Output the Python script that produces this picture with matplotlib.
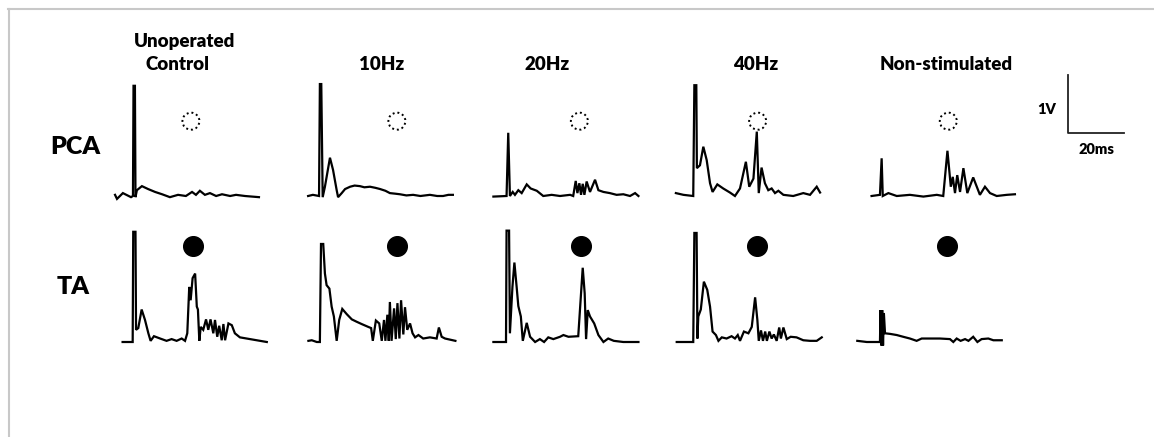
import matplotlib.pyplot as plt
from matplotlib.lines import Line2D

plt.rcParams['font.family'] = ['Lato', 'DejaVu Sans']

# ---- data: traces in ms (from panel left edge) and V ----
col_titles = ["Unoperated\nControl", "10Hz", "20Hz", "40Hz", "Non-stimulated"]
row_labels = ["PCA", "TA"]

pca_control_t = [1.8, 2.5, 4.6, 7.5, 8.2, 8.4, 8.9, 9.1, 9.6, 11.4, 13.6, 16.1, 18.6, 21.4, 24.3, 27.1,
                 29.3, 30.7, 32.1, 33.9, 35.7, 37.9, 40.0, 42.9, 45.0, 48.2, 53.2]
pca_control_v = [0.02, -0.05, 0.05, -0.02, 0.0, 1.9, 1.9, -0.02, 0.1, 0.17, 0.12, 0.07, 0.03, -0.02, 0.02, 0.0,
                 0.07, 0.02, 0.09, 0.02, 0.05, 0.0, 0.03, 0.0, 0.02, 0.0, -0.02]

pca_10hz_t = [2.9, 4.6, 6.8, 7.1, 7.6, 8.1, 8.9, 10.7, 11.8, 13.1, 13.6, 14.9, 16.1, 17.9, 19.5, 21.4, 23.0,
              25.0, 27.0, 28.6, 30.5, 32.1, 34.0, 35.7, 38.0, 40.4, 43.0, 46.4, 49.0, 51.1, 53.0, 54.6]
pca_10hz_v = [0.0, 0.02, 0.0, 1.93, 1.93, -0.02, 0.16, 0.66, 0.45, 0.1, -0.02, 0.05, 0.12, 0.16, 0.18, 0.17, 0.15,
              0.16, 0.14, 0.12, 0.09, 0.05, 0.04, 0.03, 0.01, 0.02, 0.0, 0.02, 0.0, 0.0, 0.02, 0.02]

pca_20hz_t = [3.0, 7.7, 8.3, 8.9, 9.9, 10.7, 11.9, 13.1, 14.9, 16.3, 18.5, 20.8, 23.8, 26.8, 30.4, 31.5,
              32.4, 33.0, 33.7, 34.3, 34.9, 35.5, 36.3, 37.5, 39.3, 40.5, 42.3, 44.6, 47.0, 49.4, 51.8, 53.6, 54.8]
pca_20hz_v = [-0.01, 0.0, 1.09, 0.0, 0.07, 0.02, 0.1, 0.05, 0.2, 0.13, 0.09, 0.0, 0.02, 0.0, 0.02, 0.0,
              0.26, 0.05, 0.22, 0.02, 0.21, 0.02, 0.25, 0.07, 0.28, 0.1, 0.07, 0.05, 0.02, 0.03, 0.0, 0.05, 0.0]

pca_40hz_t = [2.1, 4.8, 8.3, 8.7, 9.4, 9.6, 10.7, 11.9, 13.1, 14.3, 15.2, 16.9, 19.0, 21.4, 23.2, 25.0,
              27.1, 28.3, 29.8, 31.0, 31.7, 32.7, 33.9, 35.1, 36.3, 37.5, 38.7, 40.5, 44.0, 47.6, 50.0, 52.4, 53.6]
pca_40hz_v = [0.05, 0.02, 0.0, 1.91, 1.91, 0.48, 0.53, 0.85, 0.62, 0.22, 0.07, 0.2, 0.13, 0.06, 0.0, 0.13,
              0.59, 0.16, 0.3, 1.11, 0.05, 0.49, 0.22, 0.1, 0.13, 0.05, 0.09, 0.02, 0.0, 0.05, 0.02, 0.16, 0.06]

pca_nonstim_t = [7.7, 10.7, 11.3, 11.7, 13.7, 16.7, 21.4, 26.2, 31.0, 33.3, 34.8, 36.0, 36.7, 37.5, 38.3,
                 39.3, 40.5, 41.9, 44.0, 46.4, 48.2, 50.0, 52.4, 56.0, 58.9]
pca_nonstim_v = [0.0, 0.02, 0.65, 0.0, 0.05, 0.0, 0.02, -0.01, 0.02, 0.0, 0.78, 0.16, 0.33, 0.05, 0.36,
                 0.07, 0.48, 0.05, 0.32, 0.02, 0.16, 0.05, 0.0, 0.02, 0.03]

ta_control_t = [4.5, 8.1, 8.3, 9.1, 9.3, 10.1, 11.3, 12.5, 13.7, 14.5, 15.7, 17.9, 20.2, 22.0, 23.8, 25.6,
                26.8, 27.6, 28.3, 28.8, 29.5, 30.4, 31.0, 31.4, 31.9, 32.4, 33.3, 34.3, 35.1, 35.9, 36.9,
                37.5, 38.3, 39.0, 39.9, 40.5, 41.1, 42.3, 43.5, 44.6, 46.4, 50.0, 56.0]
ta_control_v = [0.0, 0.0, 1.9, 1.9, 0.21, 0.24, 0.56, 0.38, 0.15, 0.02, 0.1, 0.06, 0.02, 0.05, 0.02, 0.06,
                0.02, 0.15, 0.95, 0.72, 1.1, 1.18, 0.61, 0.56, 0.02, 0.26, 0.21, 0.39, 0.21, 0.39, 0.15,
                0.38, 0.09, 0.28, 0.03, 0.31, 0.03, 0.32, 0.29, 0.15, 0.08, 0.05, 0.0]

ta_10hz_t = [3.0, 4.2, 6.0, 7.1, 7.5, 8.3, 8.9, 9.5, 10.5, 11.3, 12.1, 13.1, 14.0, 15.1, 16.7, 18.5, 20.2,
             22.0, 24.4, 25.4, 26.0, 27.1, 28.3, 29.2, 30.0, 30.5, 31.2, 31.7, 32.1, 32.7, 33.6, 34.2,
             34.8, 35.5, 36.1, 36.9, 37.5, 38.3, 39.3, 40.2, 41.1, 42.3, 44.0, 46.4, 48.8, 49.6, 50.6,
             51.8, 55.5]
ta_10hz_v = [0.02, 0.03, 0.0, 0.0, 1.69, 1.69, 1.18, 0.98, 0.92, 0.61, 0.44, 0.02, 0.38, 0.57, 0.48, 0.39, 0.35,
             0.31, 0.26, 0.24, 0.02, 0.37, 0.32, 0.02, 0.38, 0.02, 0.47, 0.02, 0.69, 0.02, 0.58, 0.05,
             0.67, 0.06, 0.72, 0.13, 0.6, 0.21, 0.32, 0.15, 0.08, 0.12, 0.06, 0.08, 0.06, 0.25, 0.09,
             0.06, 0.02]

ta_20hz_t = [3.0, 7.5, 7.7, 8.6, 8.9, 9.8, 10.5, 11.3, 11.9, 12.8, 13.5, 14.9, 16.1, 17.9, 19.6, 21.1,
             22.6, 24.4, 26.8, 28.0, 29.8, 33.3, 34.9, 35.6, 36.1, 36.7, 37.5, 39.0, 40.5, 42.3, 44.0,
             46.0, 49.4, 54.8]
ta_20hz_v = [0.0, 0.0, 1.92, 1.92, 0.15, 0.95, 1.37, 0.95, 0.62, 0.44, 0.02, 0.33, 0.09, 0.0, 0.05, 0.0,
             0.08, 0.05, 0.09, 0.12, 0.09, 0.1, 1.28, 0.84, 0.05, 0.55, 0.44, 0.32, 0.12, 0.0, 0.06,
             0.02, 0.0, 0.0]

ta_40hz_t = [2.4, 8.3, 8.7, 9.5, 9.8, 10.1, 11.0, 12.1, 13.3, 14.3, 15.2, 16.4, 17.3, 18.5, 20.2, 22.0,
             23.2, 24.2, 25.0, 26.4, 28.0, 29.2, 30.4, 31.2, 31.7, 32.5, 33.2, 34.0, 34.6, 35.5, 36.3,
             37.1, 38.1, 39.0, 39.6, 40.5, 41.7, 43.1, 45.2, 47.6, 50.0, 52.4, 54.2]
ta_40hz_v = [0.0, 0.0, 1.88, 1.88, 0.06, 0.44, 0.56, 1.04, 0.9, 0.61, 0.18, 0.12, 0.02, 0.08, 0.06, 0.1,
             0.06, 0.12, 0.02, 0.18, 0.15, 0.26, 0.77, 0.38, 0.02, 0.2, 0.02, 0.18, 0.02, 0.18, 0.06,
             0.13, 0.02, 0.25, 0.06, 0.25, 0.05, 0.09, 0.08, 0.03, 0.02, 0.02, 0.08]

ta_nonstim_t = [2.6, 6.0, 10.7, 10.9, 11.2, 11.5, 11.8, 12.1, 12.5, 14.3, 16.7, 19.0, 21.4, 23.8, 25.6,
                28.6, 32.1, 35.7, 36.9, 38.1, 39.5, 41.1, 42.3, 44.0, 45.5, 47.0, 49.4, 51.2, 54.2]
ta_nonstim_v = [0.02, 0.0, 0.0, 0.55, -0.06, 0.55, -0.06, 0.5, 0.15, 0.14, 0.12, 0.09, 0.06, 0.02, 0.06,
                0.06, 0.06, 0.05, 0.0, 0.06, 0.02, 0.05, 0.02, 0.09, 0.0, 0.05, 0.06, 0.03, 0.03]

pca_circle_t = [28.9, 34.6, 33.7, 31.3, 35.1]
pca_circle_v = 1.29
ta_circle_t = [29.5, 34.5, 34.2, 31.2, 34.8]
ta_circle_v = 1.66

scale_ms = 20
scale_v = 1

# ---- layout (pixels) ----
W_PX, H_PX = 1154, 437
PX_PER_MS = 2.8
PX_PER_V = 58.0
col_left = [110, 300, 485, 670, 850]
panel_w = 175
# (top, bottom, baseline) for each row
row_geom = [(60, 205, 196), (222, 352, 342)]


def add_px_axes(fig, left, top, width, height):
    ax = fig.add_axes([left / W_PX, 1 - (top + height) / H_PX, width / W_PX, height / H_PX])
    ax.set_axis_off()
    return ax


fig = plt.figure(figsize=(W_PX / 100, H_PX / 100), dpi=100)

traces = [
    [(pca_control_t, pca_control_v), (pca_10hz_t, pca_10hz_v), (pca_20hz_t, pca_20hz_v),
     (pca_40hz_t, pca_40hz_v), (pca_nonstim_t, pca_nonstim_v)],
    [(ta_control_t, ta_control_v), (ta_10hz_t, ta_10hz_v), (ta_20hz_t, ta_20hz_v),
     (ta_40hz_t, ta_40hz_v), (ta_nonstim_t, ta_nonstim_v)],
]

for r in range(2):
    top, bottom, base = row_geom[r]
    for c in range(5):
        ax = add_px_axes(fig, col_left[c], top, panel_w, bottom - top)
        ax.set_xlim(0, panel_w / PX_PER_MS)
        ax.set_ylim(-(bottom - base) / PX_PER_V, (base - top) / PX_PER_V)
        t, v = traces[r][c]
        ax.plot(t, v, color='black', lw=1.6, solid_joinstyle='miter')
        if r == 0:
            ax.scatter([pca_circle_t[c]], [pca_circle_v], s=150, facecolors='none',
                       edgecolors='black', linewidths=1.4, linestyle=(0, (1, 1.5)), clip_on=False)
        else:
            ax.scatter([ta_circle_t[c]], [ta_circle_v], s=200, color='black', clip_on=False)

# scale bar
sb = add_px_axes(fig, 1068, 75, scale_ms * PX_PER_MS, scale_v * PX_PER_V)
sb.set_xlim(0, scale_ms)
sb.set_ylim(0, scale_v)
sb.plot([0, 0, scale_ms], [scale_v, 0, 0], color='#222222', lw=1.3, clip_on=False)


def fig_text(x, y, s, size, **kw):
    fig.text(x / W_PX, 1 - y / H_PX, s, fontsize=size, fontweight='heavy',
             ha='center', va='center', **kw)


fig_text(185, 42, "Unoperated", 13.5)
fig_text(178, 64, "Control", 13.5)
title_x = [None, 382, 547, 756, 946]
for c in range(1, 5):
    fig_text(title_x[c], 64, col_titles[c], 13.5)
fig_text(75, 147, row_labels[0], 18)
fig_text(73, 287, row_labels[1], 18)
fig_text(1047, 109, f"{scale_v}V", 10.5)
fig_text(1096, 150, f"{scale_ms}ms", 10.5)

# light frame on top and left
fig.add_artist(Line2D([8 / W_PX, 1], [1 - 9 / H_PX, 1 - 9 / H_PX], color='#c8c8c8', lw=1.5))
fig.add_artist(Line2D([8.5 / W_PX, 8.5 / W_PX], [0, 1 - 9 / H_PX], color='#c8c8c8', lw=1.5))

fig.savefig("out.png", dpi=100)
